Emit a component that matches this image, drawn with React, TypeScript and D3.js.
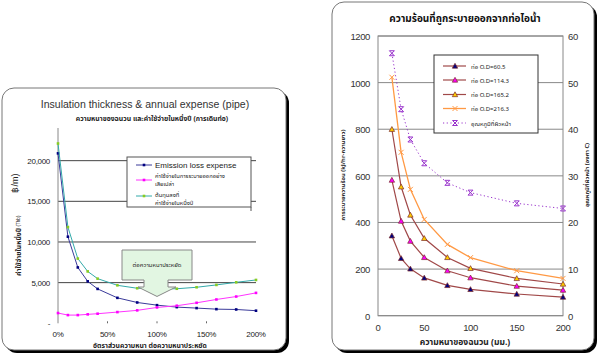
import React from "react";
import * as d3 from "d3";

// ---------- Left chart data ----------
const ratioPct = [0, 10, 20, 30, 40, 60, 80, 100, 120, 140, 160, 180, 200];
const emissionLoss = [20900, 10650, 6870, 5160, 4230, 3130, 2560, 2230, 1990, 1870, 1740, 1700, 1550];
const designExpense = [1260, 1010, 1010, 1100, 1180, 1380, 1590, 1950, 2160, 2520, 2930, 3290, 3740];
const totalExpense = [22110, 11830, 7960, 6380, 5490, 4670, 4310, 4230, 4250, 4430, 4720, 5040, 5330];
const leftYTicks = [0, 5000, 10000, 15000, 20000];
const leftXTicks = [0, 50, 100, 150, 200];

// ---------- Right chart data ----------
const thicknessMm = [15, 25, 35, 50, 75, 100, 150, 200];
const od60 = [343, 246, 201, 162, 130, 113, 93, 80];
const od114 = [582, 406, 320, 250, 193, 163, 127, 110];
const od165 = [800, 553, 432, 332, 250, 203, 160, 136];
const od216 = [1023, 701, 542, 413, 306, 249, 193, 160];
const surfaceTemp = [56.3, 44.3, 37.8, 32.7, 28.5, 26.4, 24.1, 23.0];
const rightYTicks = [0, 200, 400, 600, 800, 1000, 1200];
const rightY2Ticks = [0, 10, 20, 30, 40, 50, 60];
const rightXTicks = [0, 50, 100, 150, 200];
const rightLegend = ["ท่อ O.D=60.5", "ท่อ O.D=114.3", "ท่อ O.D=165.2", "ท่อ O.D=216.3", "อุณหภูมิที่ผิวหน้า"];

const ARIAL = "Arial, 'Liberation Sans', sans-serif";
const THAI = "'Noto Sans Thai', Tahoma, 'DejaVu Sans', 'Noto Sans', sans-serif";

function Frame({ x, y, w, h }: { x: number; y: number; w: number; h: number }) {
  return (
    <g>
      <rect x={x + 3} y={y + 3} width={w} height={h} rx={12} fill="#000" />
      <rect x={x} y={y} width={w} height={h} rx={12} fill="#fff" stroke="#777" strokeWidth={1} />
    </g>
  );
}

function Triangle({ cx, cy, fill }: { cx: number; cy: number; fill: string }) {
  const s = 2.7;
  return (
    <path
      d={`M${cx},${cy - s} L${cx + s},${cy + s * 0.8} L${cx - s},${cy + s * 0.8} Z`}
      fill={fill}
      stroke="#7a2a2a"
      strokeWidth={0.7}
    />
  );
}

function XMark({ cx, cy, color, star }: { cx: number; cy: number; color: string; star?: boolean }) {
  const s = 2.5;
  return (
    <g stroke={color} strokeWidth={1}>
      <line x1={cx - s} y1={cy - s} x2={cx + s} y2={cy + s} />
      <line x1={cx - s} y1={cy + s} x2={cx + s} y2={cy - s} />
      {star && <line x1={cx - s} y1={cy - s} x2={cx + s} y2={cy - s} />}
      {star && <line x1={cx - s} y1={cy + s} x2={cx + s} y2={cy + s} />}
    </g>
  );
}

function LeftChart() {
  const x = d3.scaleLinear().domain([0, 200]).range([58, 256]);
  const y = d3.scaleLinear().domain([0, 25000]).range([323.3, 120]);
  const line = (vals: number[]) =>
    d3.line<number>().x((_, i) => x(ratioPct[i])).y((v) => y(v))(vals) || "";
  const series = [
    { vals: emissionLoss, line: "#3a3a9a", marker: "#000080" },
    { vals: designExpense, line: "#ff33ff", marker: "#ff00ff" },
    { vals: totalExpense, line: "#33aaaa", marker: "#88cc22" },
  ];
  const cx = x(100);
  const tipY = y(3300);
  return (
    <g>
      <Frame x={2} y={88} w={284} h={262} />
      <text x={145} y={108} textAnchor="middle" fontFamily={ARIAL} fontSize={10.5} fill="#333">
        Insulation thickness &amp; annual expense (pipe)
      </text>
      <text x={152} y={121} textAnchor="middle" fontFamily={THAI} fontSize={6.8} fontWeight="bold" fill="#222">
        ความหนาของฉนวน และค่าใช้จ่ายในหนึ่งปี (การเดินท่อ)
      </text>
      {leftYTicks.filter((t) => t > 0).map((t) => (
        <line key={t} x1={x(0)} x2={x(200)} y1={y(t)} y2={y(t)} stroke="#444" strokeWidth={1} />
      ))}
      <line x1={x(0)} x2={x(0)} y1={y(0)} y2={128} stroke="#888" strokeWidth={1} />
      {leftYTicks.map((t) => (
        <text key={t} x={50} y={y(t) + 3} textAnchor="end" fontFamily={ARIAL} fontSize={8} fill="#222" letterSpacing={-0.3}>
          {t === 0 ? "-" : d3.format(",")(t)}
        </text>
      ))}
      {leftXTicks.map((t) => (
        <g key={t}>
          {t > 0 && t < 200 && <line x1={x(t)} x2={x(t)} y1={y(0) - 2} y2={y(0)} stroke="#666" />}
          <text x={x(t)} y={337} textAnchor="middle" fontFamily={ARIAL} fontSize={8} fill="#222" letterSpacing={-0.3}>
            {t}%
          </text>
        </g>
      ))}
      <text x={150} y={348} textAnchor="middle" fontFamily={THAI} fontSize={6.8} fontWeight="bold" fill="#222">
        อัตราส่วนความหนา ต่อความหนาประหยัด
      </text>
      <text transform="translate(21,252) rotate(-90)" textAnchor="middle" fontFamily={THAI} fontSize={6.8} fontWeight="bold" fill="#222">
        ค่าใช้จ่ายในหนึ่งปี
      </text>
      <text transform="translate(20,221) rotate(-90)" textAnchor="middle" fontFamily={ARIAL} fontSize={4.5} fill="#222">
        (Thb)
      </text>
      <text transform="translate(18,183) rotate(-90)" textAnchor="middle" fontFamily={ARIAL} fontSize={9} fill="#222">
        ฿/m)
      </text>
      {series.map((s, si) => (
        <g key={si}>
          <path d={line(s.vals)} fill="none" stroke={s.line} strokeWidth={1} />
          {s.vals.map((v, i) => (
            <rect key={i} x={x(ratioPct[i]) - 1.3} y={y(v) - 1.3} width={2.6} height={2.6} fill={s.marker} />
          ))}
        </g>
      ))}
      <path
        d={`M${cx - 35},250 H${cx + 35} V280 H${cx + 11} V287 H${cx + 19} L${cx},${tipY} L${cx - 19},287 H${cx - 13} V280 H${cx - 35} Z`}
        fill="#e2f6e2"
        stroke="#888"
        strokeWidth={1}
      />
      <text x={cx} y={267} textAnchor="middle" fontFamily={THAI} fontSize={6} fill="#222">
        ต่อความหนาประหยัด
      </text>
      {/* legend */}
      <rect x={127} y={157} width={124} height={50} fill="#fff" stroke="#555" strokeWidth={1} />
      <line x1={251} x2={251} y1={207} y2={211} stroke="#555" />
      <line x1={136} x2={152} y1={165} y2={165} stroke="#3a3a9a" />
      <rect x={142.7} y={163.7} width={2.6} height={2.6} fill="#000080" />
      <text x={155} y={168} fontFamily={ARIAL} fontSize={8} fill="#222">Emission loss expense</text>
      <line x1={136} x2={152} y1={180} y2={180} stroke="#ff33ff" />
      <rect x={142.7} y={178.7} width={2.6} height={2.6} fill="#ff00ff" />
      <text x={155} y={178} fontFamily={THAI} fontSize={5.8} fill="#222">ค่าใช้จ่ายในการระบายออกอย่าง</text>
      <text x={155} y={186} fontFamily={THAI} fontSize={5.8} fill="#222">เสียเปล่า</text>
      <line x1={136} x2={152} y1={196} y2={196} stroke="#33aaaa" />
      <rect x={142.7} y={194.7} width={2.6} height={2.6} fill="#88cc22" />
      <text x={155} y={197} fontFamily={THAI} fontSize={5.8} fill="#222">ต้นทุนลงที่</text>
      <text x={155} y={205} fontFamily={THAI} fontSize={5.8} fill="#222">ค่าใช้จ่ายในหนึ่งปี</text>
    </g>
  );
}

function RightChart() {
  const x = d3.scaleLinear().domain([0, 200]).range([378, 563]);
  const y = d3.scaleLinear().domain([0, 1200]).range([315.7, 36]);
  const y2 = d3.scaleLinear().domain([0, 60]).range([315.7, 36]);
  const line = (vals: number[], sc: d3.ScaleLinear<number, number>) =>
    d3.line<number>().x((_, i) => x(thicknessMm[i])).y((v) => sc(v))(vals) || "";
  const tri = [
    { vals: od60, fill: "#000080" },
    { vals: od114, fill: "#ff00ff" },
    { vals: od165, fill: "#ffcc00" },
  ];
  const maroon = "#a04848";
  const orange = "#ff9944";
  const purple = "#9933cc";
  const legY = [66, 80, 94.5, 108.5, 123];
  return (
    <g>
      <Frame x={332} y={2} w={262} h={348} />
      <text x={465} y={22} textAnchor="middle" fontFamily={THAI} fontSize={10} fontWeight="bold" fill="#111">
        ความร้อนที่ถูกระบายออกจากท่อไอน้ำ
      </text>
      {rightYTicks.map((t) => (
        <line key={t} x1={x(0)} x2={x(200)} y1={y(t)} y2={y(t)} stroke="#888" strokeWidth={1} />
      ))}
      <rect x={x(0)} y={y(1200)} width={x(200) - x(0)} height={y(0) - y(1200)} fill="none" stroke="#888" />
      {rightYTicks.map((t) => (
        <text key={t} x={370} y={y(t) + 4} textAnchor="end" fontFamily={ARIAL} fontSize={9.5} fill="#333" letterSpacing={-0.4}>
          {t}
        </text>
      ))}
      {rightY2Ticks.map((t) => (
        <text key={t} x={568} y={y2(t) + 4} textAnchor="start" fontFamily={ARIAL} fontSize={9.5} fill="#333" letterSpacing={-0.4}>
          {t}
        </text>
      ))}
      {rightXTicks.map((t) => (
        <text key={t} x={x(t)} y={331} textAnchor="middle" fontFamily={ARIAL} fontSize={9.5} fill="#333" letterSpacing={-0.4}>
          {t}
        </text>
      ))}
      <text x={465} y={345} textAnchor="middle" fontFamily={THAI} fontSize={8.5} fontWeight="bold" fill="#222">
        ความหนาของฉนวน (มม.)
      </text>
      <text transform="translate(345,175) rotate(-90)" textAnchor="middle" fontFamily={THAI} fontSize={5.8} fontWeight="bold" fill="#222">
        การระบายความร้อน (kJ/hr-ความยาว)
      </text>
      <text transform="translate(589,175) rotate(-90)" textAnchor="middle" fontFamily={THAI} fontSize={5.8} fontWeight="bold" fill="#222">
        อุณหภูมิที่ผิวหน้า (องศา C)
      </text>
      {tri.map((s, si) => (
        <g key={si}>
          <path d={line(s.vals, y)} fill="none" stroke={maroon} strokeWidth={1.2} />
          {s.vals.map((v, i) => (
            <Triangle key={i} cx={x(thicknessMm[i])} cy={y(v)} fill={s.fill} />
          ))}
        </g>
      ))}
      <path d={line(od216, y)} fill="none" stroke={orange} strokeWidth={1.3} />
      {od216.map((v, i) => (
        <XMark key={i} cx={x(thicknessMm[i])} cy={y(v)} color={orange} />
      ))}
      <path d={line(surfaceTemp, y2)} fill="none" stroke={purple} strokeWidth={1} strokeDasharray="1.2,2.5" />
      {surfaceTemp.map((v, i) => (
        <XMark key={i} cx={x(thicknessMm[i])} cy={y2(v)} color={purple} star />
      ))}
      <rect x={434} y={55} width={104} height={78} fill="#fff" stroke="#333" strokeWidth={1} />
      {rightLegend.map((label, i) => (
        <g key={i}>
          {i < 3 && <line x1={443} x2={466} y1={legY[i]} y2={legY[i]} stroke={maroon} strokeWidth={1.2} />}
          {i < 3 && <Triangle cx={455} cy={legY[i]} fill={tri[i].fill} />}
          {i === 3 && <line x1={443} x2={466} y1={legY[i]} y2={legY[i]} stroke={orange} strokeWidth={1.3} />}
          {i === 3 && <XMark cx={455} cy={legY[i]} color={orange} />}
          {i === 4 && (
            <line x1={443} x2={466} y1={legY[i]} y2={legY[i]} stroke={purple} strokeWidth={1} strokeDasharray="1.2,2.5" />
          )}
          {i === 4 && <XMark cx={455} cy={legY[i]} color={purple} star />}
          <text x={471} y={legY[i] + 2.5} fontFamily={THAI} fontSize={6} fill="#222">
            {label}
          </text>
        </g>
      ))}
    </g>
  );
}

export default function App() {
  return (
    <svg
      width={600}
      height={357}
      viewBox="0 0 600 357"
      style={{ position: "absolute", left: 0, top: 0, background: "#fff" }}
    >
      <rect x={0} y={0} width={600} height={357} fill="#fff" />
      <LeftChart />
      <RightChart />
    </svg>
  );
}
